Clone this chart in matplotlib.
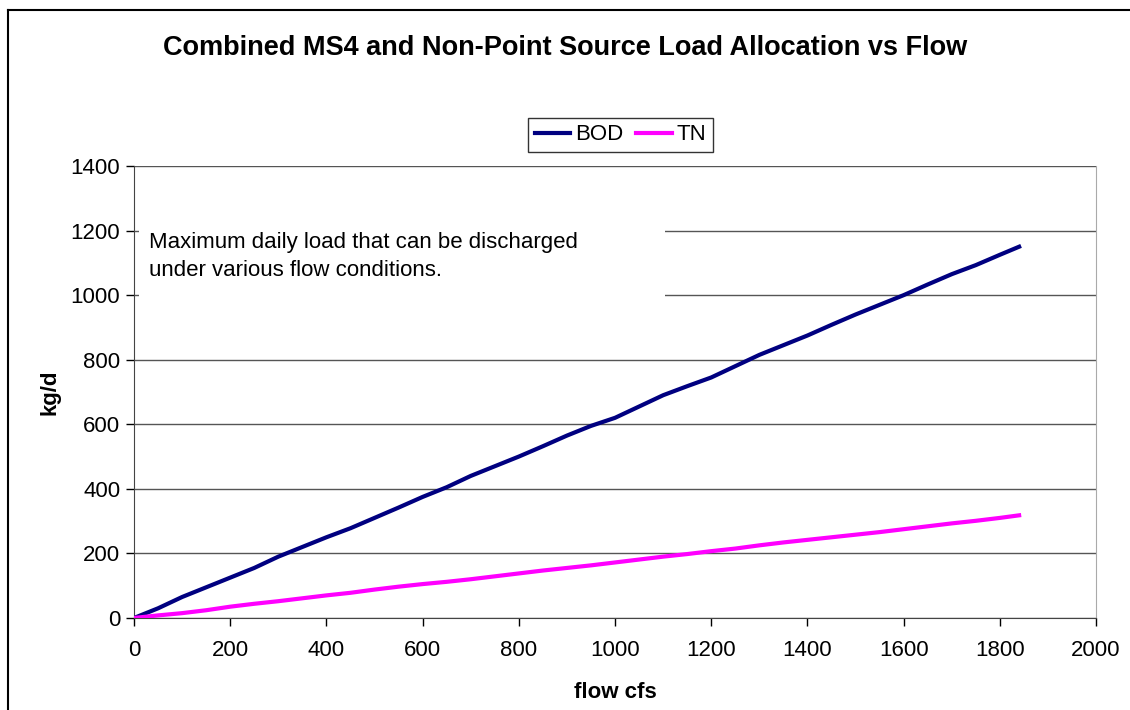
import matplotlib.pyplot as plt
from matplotlib.lines import Line2D
from matplotlib.patches import Rectangle

plt.rcParams['font.family'] = ['Liberation Sans', 'DejaVu Sans']

flow = [0, 50, 100, 150, 200, 250, 300, 350, 400, 450, 500, 550, 600, 650, 700,
        750, 800, 850, 900, 950, 1000, 1050, 1100, 1150, 1200, 1250, 1300, 1350,
        1400, 1450, 1500, 1550, 1600, 1650, 1700, 1750, 1800, 1840]
bod = [0, 30, 65, 95, 125, 155, 190, 220, 250, 278, 310, 342, 375, 405, 440,
       470, 500, 532, 565, 595, 620, 655, 690, 718, 745, 780, 815, 845,
       875, 908, 940, 970, 1000, 1033, 1065, 1093, 1125, 1150]
tn = [0, 8, 15, 24, 35, 44, 52, 61, 70, 78, 88, 97, 105, 112, 120,
      129, 138, 147, 155, 163, 172, 181, 190, 198, 207, 215, 225, 234,
      242, 250, 258, 266, 275, 284, 293, 301, 310, 318]

fig = plt.figure(figsize=(11.3, 7.1), dpi=100)
ax = fig.add_axes([0.1186, 0.1296, 0.8514, 0.6366])

ax.plot(flow, bod, color='#000080', lw=3, label='BOD', zorder=3)
ax.plot(flow, tn, color='#FF00FF', lw=3, label='TN', zorder=3)

ax.set_xlim(0, 2000)
ax.set_ylim(0, 1400)
ax.set_xticks(range(0, 2001, 200))
ax.set_yticks(range(0, 1401, 200))
ax.tick_params(labelsize=16, direction='out', length=6, width=1, color='black')
ax.tick_params(axis='x', pad=10)
ax.tick_params(axis='y', pad=4)
ax.yaxis.grid(True, color='#555555', lw=1)
ax.set_axisbelow(True)
ax.spines['top'].set_visible(False)
ax.spines['right'].set_color('#aaaaaa')
ax.spines['left'].set_color('#444444')
ax.spines['bottom'].set_color('#444444')

ax.set_xlabel('flow cfs', fontsize=16, fontweight='bold', labelpad=15)
ax.set_ylabel('kg/d', fontsize=16, fontweight='bold', labelpad=7)

# white box behind the note hides the gridlines
ax.add_patch(Rectangle((0.005, 0.63), 0.547, 0.3, transform=ax.transAxes,
                       facecolor='white', edgecolor='none', zorder=2))
ax.text(0.016, 0.80, 'Maximum daily load that can be discharged\nunder various flow conditions.',
        transform=ax.transAxes, fontsize=16, va='center', ha='left',
        linespacing=1.4, zorder=4)

fig.text(0.5, 0.933, 'Combined MS4 and Non-Point Source Load Allocation vs Flow',
         ha='center', va='center', fontsize=19.5, fontweight='bold')

leg = fig.legend(loc='center', bbox_to_anchor=(0.549, 0.81), ncol=2, fontsize=16,
                 frameon=True, fancybox=False, edgecolor='black', handlelength=1.6,
                 handletextpad=0.2, columnspacing=0.6, borderpad=0.3)
leg.get_frame().set_linewidth(1)

# outer chart border
fig.add_artist(Line2D([0.0075, 0.0075], [0, 0.986], color='black', lw=1.5))
fig.add_artist(Line2D([0.0075, 1], [0.986, 0.986], color='black', lw=1.5))

fig.savefig('out.png', dpi=100, facecolor='white')
